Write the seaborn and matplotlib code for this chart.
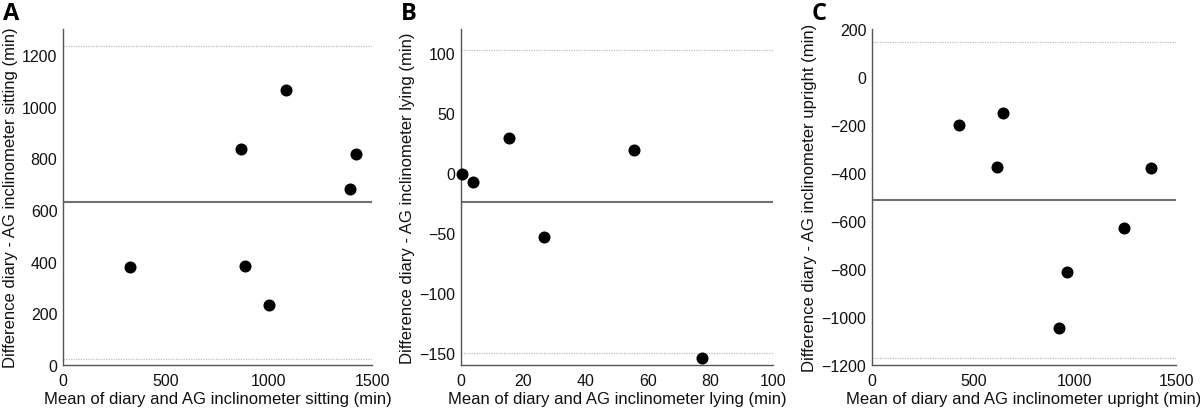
import matplotlib
matplotlib.use("Agg")
import matplotlib.pyplot as plt
import seaborn as sns
import pandas as pd

sns.set_theme(style="white")
plt.rcParams['font.family'] = ['Liberation Sans', 'DejaVu Sans']

# Panel A: sitting
sit_mean = [327, 864, 885, 1000, 1081, 1395, 1421]
sit_diff = [380, 837, 382, 234, 1065, 682, 818]
sit_bias, sit_upper, sit_lower = 631, 1235, 25

# Panel B: lying
lie_mean = [0.4, 3.7, 15.5, 26.5, 55.6, 77.4]
lie_diff = [-0.5, -7.2, 29.3, -53.2, 19.1, -154.5]
lie_bias, lie_upper, lie_lower = -23.8, 102.2, -150

# Panel C: upright
up_mean = [429, 615, 645, 924, 960, 1243, 1375]
up_diff = [-202, -374, -150, -1046, -811, -629, -380]
up_bias, up_upper, up_lower = -513, 147, -1169

panels = [
    ("A", sit_mean, sit_diff, sit_bias, sit_upper, sit_lower, (0, 1500), (0, 1300),
     [0, 500, 1000, 1500], [0, 200, 400, 600, 800, 1000, 1200],
     "Mean of diary and AG inclinometer sitting (min)",
     "Difference diary - AG inclinometer sitting (min)"),
    ("B", lie_mean, lie_diff, lie_bias, lie_upper, lie_lower, (0, 100), (-160, 120),
     [0, 20, 40, 60, 80, 100], [-150, -100, -50, 0, 50, 100],
     "Mean of diary and AG inclinometer lying (min)",
     "Difference diary - AG inclinometer lying (min)"),
    ("C", up_mean, up_diff, up_bias, up_upper, up_lower, (0, 1500), (-1200, 200),
     [0, 500, 1000, 1500], [-1200, -1000, -800, -600, -400, -200, 0, 200],
     "Mean of diary and AG inclinometer upright (min)",
     "Difference diary - AG inclinometer upright (min)"),
]

fig = plt.figure(figsize=(12, 4.1), dpi=100)
W, H = 1200, 410
boxes = [(63, 30, 372, 366), (461, 30, 773, 366), (872, 30, 1176, 366)]

for (letter, xm, yd, bias, up, lo, xl, yl, xt, yt, xlab, ylab), (l, t, r, b) in zip(panels, boxes):
    ax = fig.add_axes([l / W, 1 - b / H, (r - l) / W, (b - t) / H])
    df = pd.DataFrame({"mean": xm, "diff": yd})
    ax.axhline(up, color="#bdbdbd", lw=0.9, ls=(0, (1, 1)), zorder=1)
    ax.axhline(lo, color="#bdbdbd", lw=0.9, ls=(0, (1, 1)), zorder=1)
    ax.axhline(bias, color="#707070", lw=1.5, zorder=1)
    sns.scatterplot(data=df, x="mean", y="diff", ax=ax, color="black", s=75,
                    edgecolor="black", linewidth=0, zorder=3, clip_on=False)
    ax.set_xlim(*xl)
    ax.set_ylim(*yl)
    ax.set_xticks(xt)
    ax.set_yticks(yt)
    ax.set_xlabel(xlab, fontsize=12, labelpad=2, color="#111111")
    ax.set_ylabel(ylab, fontsize=12, labelpad=3, color="#111111")
    ax.tick_params(direction="in", length=3, width=0.8, color="#555555",
                   labelsize=11.5, labelcolor="#111111")
    ax.tick_params(axis="x", pad=6)
    ax.tick_params(axis="y", pad=4)
    for s in ["top", "right"]:
        ax.spines[s].set_visible(False)
    for s in ["left", "bottom"]:
        ax.spines[s].set_color("#555555")
        ax.spines[s].set_linewidth(1.0)
    fig.text((l - 60) / W, 1 - 2 / H, letter, fontsize=17, fontweight="bold",
             family=["Open Sans", "DejaVu Sans"], va="top", ha="left", color="black")

fig.savefig("out.png", dpi=100, facecolor="white")
